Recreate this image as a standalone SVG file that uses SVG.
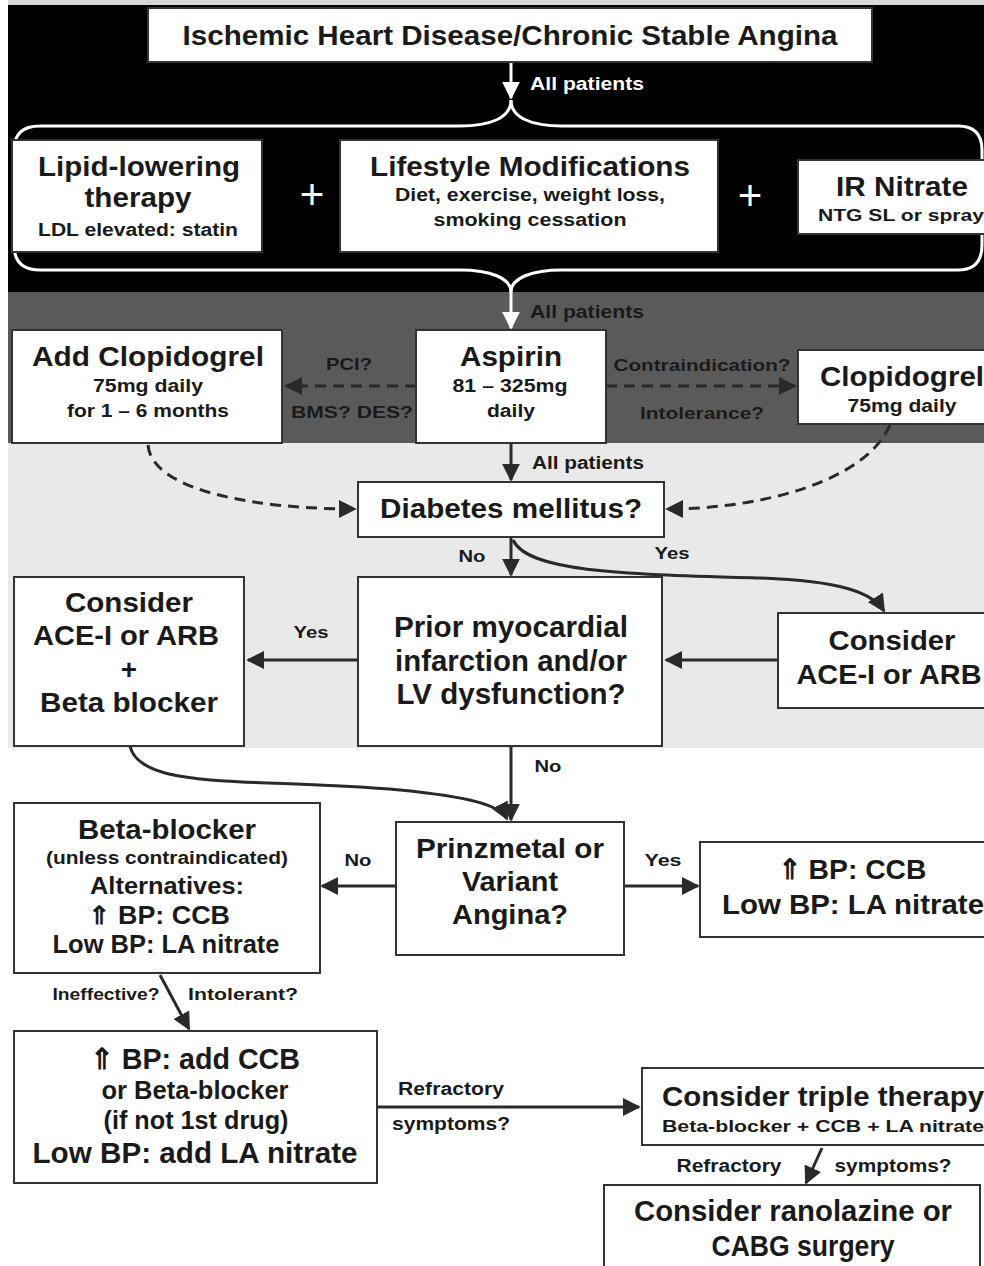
<svg xmlns="http://www.w3.org/2000/svg" width="984" height="1266" viewBox="0 0 984 1266">
<defs>
<style>
text{font-family:"Liberation Sans Narrow","Liberation Sans",Arial,sans-serif;font-weight:bold;text-anchor:middle;fill:#1a1a1a}
.w{fill:#fff}
.box{fill:#fff;stroke:#333;stroke-width:2}
.ln{fill:none;stroke:#2a2a2a;stroke-width:3}
.dl{fill:none;stroke:#2a2a2a;stroke-width:3;stroke-dasharray:11 7}
.wl{fill:none;stroke:#fff;stroke-width:3}
.plus{font-weight:normal;font-family:"Liberation Sans",sans-serif}
</style>
<marker id="ah" viewBox="0 0 10 10" refX="9" refY="5" markerWidth="6" markerHeight="6" markerUnits="strokeWidth" orient="auto"><path d="M0,0 L10,5 L0,10 z" fill="#2a2a2a"/></marker>
<marker id="aw" viewBox="0 0 10 10" refX="9" refY="5" markerWidth="6" markerHeight="6" markerUnits="strokeWidth" orient="auto"><path d="M0,0 L10,5 L0,10 z" fill="#fff"/></marker>
</defs>
<rect width="984" height="1266" fill="#fff"/>
<rect x="8" y="0" width="976" height="5" fill="#d8d8d8"/>
<rect x="8" y="5" width="976" height="288" fill="#000"/>
<rect x="8" y="292" width="976" height="152" fill="#5a5a5a"/>
<rect x="8" y="443" width="976" height="305" fill="#e9e9e9"/>

<g id="connectors">
<line class="wl" x1="511" y1="62" x2="511" y2="98" marker-end="url(#aw)"/>
<path class="wl" d="M511,100 C511,118 490,126 460,126 L40,126 Q14,126 14,150 L14,245 Q14,270 40,270 L460,270 C490,270 511,278 511,292"/>
<path class="wl" d="M511,100 C511,118 532,126 562,126 L958,126 Q982,126 982,150 L982,245 Q982,270 958,270 L562,270 C532,270 511,278 511,292"/>
<line class="wl" x1="511" y1="292" x2="511" y2="328" marker-end="url(#aw)"/>
<line class="dl" x1="416" y1="386" x2="286" y2="386" marker-end="url(#ah)"/>
<line class="dl" x1="606" y1="386" x2="795" y2="386" marker-end="url(#ah)"/>
<line class="ln" x1="511" y1="443" x2="511" y2="480" marker-end="url(#ah)"/>
<path class="dl" d="M148,445 C152,492 260,509 355,509" marker-end="url(#ah)"/>
<path class="dl" d="M890,425 C865,482 760,509 667,509" marker-end="url(#ah)"/>
<line class="ln" x1="511" y1="537" x2="511" y2="575" marker-end="url(#ah)"/>
<path class="ln" d="M513,540 C528,572 620,574 760,578 C840,581 872,592 884,611" marker-end="url(#ah)"/>
<line class="ln" x1="358" y1="660" x2="248" y2="660" marker-end="url(#ah)"/>
<line class="ln" x1="778" y1="660" x2="666" y2="660" marker-end="url(#ah)"/>
<line class="ln" x1="511" y1="746" x2="511" y2="820" marker-end="url(#ah)"/>
<path class="ln" d="M130,746 C140,792 260,777 400,790 C470,797 500,805 507,819" marker-end="url(#ah)"/>
<line class="ln" x1="396" y1="886" x2="322" y2="886" marker-end="url(#ah)"/>
<line class="ln" x1="624" y1="886" x2="698" y2="886" marker-end="url(#ah)"/>
<line class="ln" x1="160" y1="975" x2="189" y2="1029" marker-end="url(#ah)"/>
<line class="ln" x1="377" y1="1107" x2="639" y2="1107" marker-end="url(#ah)"/>
<line class="ln" x1="822" y1="1148" x2="806" y2="1183" marker-end="url(#ah)"/>
</g>

<g id="edge-labels">
<text class="w" x="587" y="90" font-size="18" textLength="114" lengthAdjust="spacingAndGlyphs">All patients</text>
<text x="587" y="318" font-size="18" textLength="114" lengthAdjust="spacingAndGlyphs">All patients</text>
<text x="349" y="370" font-size="17" textLength="46" lengthAdjust="spacingAndGlyphs">PCI?</text>
<text x="352" y="418" font-size="17" textLength="122" lengthAdjust="spacingAndGlyphs">BMS? DES?</text>
<text x="702" y="371" font-size="17" textLength="177" lengthAdjust="spacingAndGlyphs">Contraindication?</text>
<text x="702" y="419" font-size="17" textLength="124" lengthAdjust="spacingAndGlyphs">Intolerance?</text>
<text x="588" y="469" font-size="18" textLength="112" lengthAdjust="spacingAndGlyphs">All patients</text>
<text x="472" y="562" font-size="17" textLength="27" lengthAdjust="spacingAndGlyphs">No</text>
<text x="672" y="559" font-size="17" textLength="35" lengthAdjust="spacingAndGlyphs">Yes</text>
<text x="311" y="638" font-size="17" textLength="35" lengthAdjust="spacingAndGlyphs">Yes</text>
<text x="548" y="772" font-size="17" textLength="27" lengthAdjust="spacingAndGlyphs">No</text>
<text x="358" y="866" font-size="17" textLength="27" lengthAdjust="spacingAndGlyphs">No</text>
<text x="663" y="866" font-size="17" textLength="37" lengthAdjust="spacingAndGlyphs">Yes</text>
<text x="106" y="1000" font-size="17" textLength="107" lengthAdjust="spacingAndGlyphs">Ineffective?</text>
<text x="243" y="1000" font-size="17" textLength="110" lengthAdjust="spacingAndGlyphs">Intolerant?</text>
<text x="451" y="1095" font-size="18" textLength="106" lengthAdjust="spacingAndGlyphs">Refractory</text>
<text x="451" y="1130" font-size="18" textLength="118" lengthAdjust="spacingAndGlyphs">symptoms?</text>
<text x="729" y="1172" font-size="18" textLength="105" lengthAdjust="spacingAndGlyphs">Refractory</text>
<text x="893" y="1172" font-size="18" textLength="117" lengthAdjust="spacingAndGlyphs">symptoms?</text>
<text class="w plus" x="312" y="209" font-size="42">+</text>
<text class="w plus" x="750" y="210" font-size="42">+</text>
</g>

<g id="title"><rect class="box" x="148" y="8" width="724" height="54"/>
<text x="510" y="45" font-size="28" textLength="655" lengthAdjust="spacingAndGlyphs">Ischemic Heart Disease/Chronic Stable Angina</text></g>

<g id="lipid"><rect class="box" x="12" y="140" width="250" height="112"/>
<text x="139" y="176" font-size="28" textLength="202" lengthAdjust="spacingAndGlyphs">Lipid-lowering</text>
<text x="138" y="207" font-size="28" textLength="107" lengthAdjust="spacingAndGlyphs">therapy</text>
<text x="138" y="236" font-size="18" textLength="200" lengthAdjust="spacingAndGlyphs">LDL elevated: statin</text></g>

<g id="lifestyle"><rect class="box" x="340" y="140" width="378" height="112"/>
<text x="530" y="176" font-size="28" textLength="320" lengthAdjust="spacingAndGlyphs">Lifestyle Modifications</text>
<text x="530" y="201" font-size="18" textLength="270" lengthAdjust="spacingAndGlyphs">Diet, exercise, weight loss,</text>
<text x="530" y="226" font-size="18" textLength="193" lengthAdjust="spacingAndGlyphs">smoking cessation</text></g>

<g id="ir-nitrate"><rect class="box" x="798" y="160" width="190" height="74"/>
<text x="902" y="196" font-size="27" textLength="132" lengthAdjust="spacingAndGlyphs">IR Nitrate</text>
<text x="901" y="221" font-size="17" textLength="166" lengthAdjust="spacingAndGlyphs">NTG SL or spray</text></g>

<g id="add-clopidogrel"><rect class="box" x="12" y="330" width="270" height="113"/>
<text x="148" y="366" font-size="28" textLength="232" lengthAdjust="spacingAndGlyphs">Add Clopidogrel</text>
<text x="148" y="392" font-size="18" textLength="110" lengthAdjust="spacingAndGlyphs">75mg daily</text>
<text x="148" y="417" font-size="18" textLength="162" lengthAdjust="spacingAndGlyphs">for 1 – 6 months</text></g>

<g id="aspirin"><rect class="box" x="416" y="330" width="190" height="113"/>
<text x="511" y="366" font-size="28" textLength="102" lengthAdjust="spacingAndGlyphs">Aspirin</text>
<text x="510" y="392" font-size="18" textLength="115" lengthAdjust="spacingAndGlyphs">81 – 325mg</text>
<text x="511" y="417" font-size="18" textLength="48" lengthAdjust="spacingAndGlyphs">daily</text></g>

<g id="clopidogrel"><rect class="box" x="798" y="350" width="190" height="74"/>
<text x="902" y="386" font-size="28" textLength="164" lengthAdjust="spacingAndGlyphs">Clopidogrel</text>
<text x="902" y="412" font-size="18" textLength="109" lengthAdjust="spacingAndGlyphs">75mg daily</text></g>

<g id="diabetes"><rect class="box" x="358" y="482" width="306" height="55"/>
<text x="511" y="518" font-size="28" textLength="262" lengthAdjust="spacingAndGlyphs">Diabetes mellitus?</text></g>

<g id="consider-left"><rect class="box" x="14" y="577" width="230" height="169"/>
<text x="129" y="612" font-size="28" textLength="128" lengthAdjust="spacingAndGlyphs">Consider</text>
<text x="126" y="645" font-size="28" textLength="186" lengthAdjust="spacingAndGlyphs">ACE-I or ARB</text>
<text x="129" y="679" font-size="28">+</text>
<text x="129" y="712" font-size="28" textLength="178" lengthAdjust="spacingAndGlyphs">Beta blocker</text></g>

<g id="prior-mi"><rect class="box" x="358" y="577" width="304" height="169"/>
<text x="511" y="637" font-size="29" textLength="234" lengthAdjust="spacingAndGlyphs">Prior myocardial</text>
<text x="511" y="671" font-size="29" textLength="232" lengthAdjust="spacingAndGlyphs">infarction and/or</text>
<text x="511" y="704" font-size="29" textLength="229" lengthAdjust="spacingAndGlyphs">LV dysfunction?</text></g>

<g id="consider-right"><rect class="box" x="778" y="613" width="210" height="95"/>
<text x="892" y="650" font-size="28" textLength="127" lengthAdjust="spacingAndGlyphs">Consider</text>
<text x="889" y="684" font-size="28" textLength="185" lengthAdjust="spacingAndGlyphs">ACE-I or ARB</text></g>

<g id="beta-blocker"><rect class="box" x="14" y="803" width="306" height="170"/>
<text x="167" y="839" font-size="28" textLength="178" lengthAdjust="spacingAndGlyphs">Beta-blocker</text>
<text x="167" y="864" font-size="18" textLength="242" lengthAdjust="spacingAndGlyphs">(unless contraindicated)</text>
<text x="167" y="894" font-size="24" textLength="154" lengthAdjust="spacingAndGlyphs">Alternatives:</text>
<text x="159" y="924" font-size="25" textLength="142" lengthAdjust="spacingAndGlyphs">⇑ BP: CCB</text>
<text x="166" y="953" font-size="25" textLength="227" lengthAdjust="spacingAndGlyphs">Low BP: LA nitrate</text></g>

<g id="prinzmetal"><rect class="box" x="396" y="822" width="228" height="133"/>
<text x="510" y="858" font-size="28" textLength="188" lengthAdjust="spacingAndGlyphs">Prinzmetal or</text>
<text x="510" y="891" font-size="28" textLength="96" lengthAdjust="spacingAndGlyphs">Variant</text>
<text x="510" y="924" font-size="28" textLength="116" lengthAdjust="spacingAndGlyphs">Angina?</text></g>

<g id="bp-ccb"><rect class="box" x="700" y="842" width="288" height="95"/>
<text x="852" y="879" font-size="28" textLength="149" lengthAdjust="spacingAndGlyphs">⇑ BP: CCB</text>
<text x="853" y="914" font-size="28" textLength="262" lengthAdjust="spacingAndGlyphs">Low BP: LA nitrate</text></g>

<g id="add-ccb"><rect class="box" x="14" y="1031" width="363" height="152"/>
<text x="195" y="1069" font-size="29" textLength="210" lengthAdjust="spacingAndGlyphs">⇑ BP: add CCB</text>
<text x="195" y="1099" font-size="25" textLength="187" lengthAdjust="spacingAndGlyphs">or Beta-blocker</text>
<text x="196" y="1129" font-size="25" textLength="185" lengthAdjust="spacingAndGlyphs">(if not 1st drug)</text>
<text x="195" y="1163" font-size="29" textLength="325" lengthAdjust="spacingAndGlyphs">Low BP: add LA nitrate</text></g>

<g id="triple"><rect class="box" x="642" y="1068" width="346" height="77"/>
<text x="823" y="1106" font-size="28" textLength="322" lengthAdjust="spacingAndGlyphs">Consider triple therapy</text>
<text x="823" y="1132" font-size="17" textLength="322" lengthAdjust="spacingAndGlyphs">Beta-blocker + CCB + LA nitrate</text></g>

<g id="ranolazine"><rect class="box" x="604" y="1185" width="376" height="90"/>
<text x="793" y="1221" font-size="29" textLength="318" lengthAdjust="spacingAndGlyphs">Consider ranolazine or</text>
<text x="803" y="1256" font-size="29" textLength="183" lengthAdjust="spacingAndGlyphs">CABG surgery</text></g>
</svg>
